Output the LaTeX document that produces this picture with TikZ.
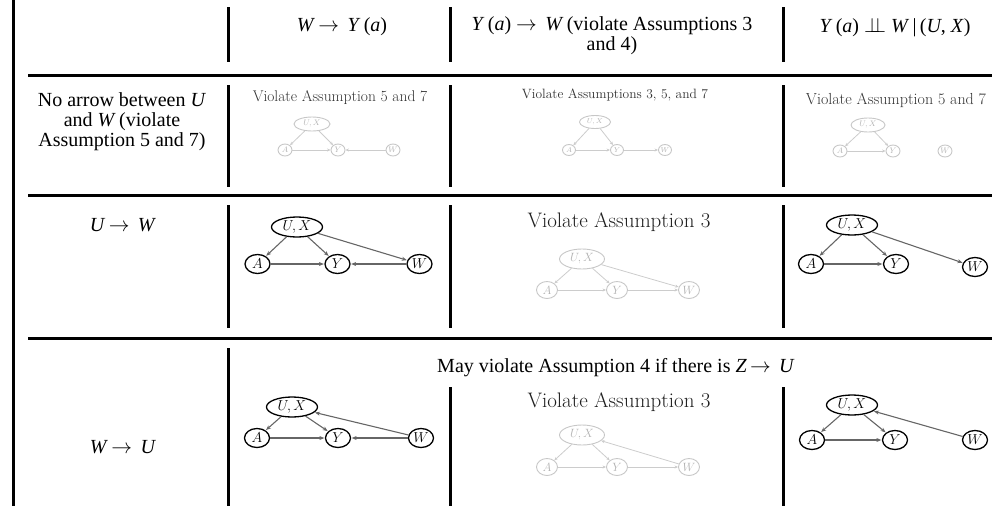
\documentclass[tikz,border=0pt]{standalone}
\usepackage{fontspec}
\setmainfont{Liberation Serif}
\usetikzlibrary{arrows.meta,shapes.geometric}
\newcommand\cmfam{\fontfamily{lmr}\selectfont}
\tikzset{
  rule/.style={line width=3pt, line cap=butt},
  tcell/.style={font=\fontsize{20}{20}\selectfont, align=center, inner sep=0pt},
  gtitle/.style={font=\cmfam\fontsize{#1}{#1}\selectfont, text=black!88, inner sep=0pt},
  gn/.style={draw, ellipse, inner sep=0pt, minimum width=25pt, minimum height=19pt, line width=1.3pt, font=\fontsize{15}{15}\selectfont},
  ge/.style={draw, ellipse, inner sep=0pt, minimum width=51pt, minimum height=20pt, line width=1.3pt, font=\fontsize{15}{15}\selectfont},
  ar/.style={-{Stealth[length=5pt,width=4pt]}, draw=black!60, line width=1.1pt, shorten >=0.5pt},
  fn/.style={draw=black!22, text=black!30, ellipse, inner sep=0pt, line width=0.9pt},
  fa/.style={-{Stealth[length=3.5pt,width=3pt]}, draw=black!20, line width=0.8pt},
}
\begin{document}
\begin{tikzpicture}[x=1pt,y=-1pt]
\useasboundingbox (0,0) rectangle (998,506);
% table rules
\draw[rule] (13,0) -- (13,506);
\draw[rule] (28,75) -- (992,75);
\draw[rule] (28,195) -- (992,195);
\draw[rule] (28,338) -- (992,338);
\foreach \x in {228,450,783} {
  \draw[rule] (\x,7) -- (\x,62);
  \draw[rule] (\x,85) -- (\x,187);
  \draw[rule] (\x,205) -- (\x,328);
}
\draw[rule] (228,348) -- (228,506);
\draw[rule] (450,387) -- (450,506);
\draw[rule] (783,387) -- (783,506);

% header
\node[tcell] (h1) at (342,27) {\textit{W}\,$\rightarrow$\, \textit{Y}\,(\textit{a})};
\node[tcell] (h2) at (612,36) {\textit{Y}\,(\textit{a}) $\rightarrow$\, \textit{W}\,(violate Assumptions 3\\and 4)};
\node[tcell] (h3) at (895,27) {\textit{Y}\,(\textit{a}) $\perp\!\!\!\perp$ \textit{W}\,|\,(\textit{U}, \textit{X})};

% row labels
\node[tcell] (r1) at (122,122) {No arrow between \textit{U}\\and \textit{W}\,(violate\\Assumption 5 and 7)};
\node[tcell] (r2) at (123,225) {\textit{U}\,$\rightarrow$\, \textit{W}};
\node[tcell] (r3) at (123,447) {\textit{W}\,$\rightarrow$\, \textit{U}};
\node[tcell] (span) at (616,368) {May violate Assumption 4 if there is \textit{Z}\,$\rightarrow$\, \textit{U}};

% ---- row 1, col 2 (faint)
\node[gtitle=15.5, text=black!80] (t12) at (340,98) {Violate Assumption 5 and 7};
\node[fn, minimum width=36pt, minimum height=14pt, font=\fontsize{8}{8}\selectfont] (a-ux) at (312,124) {$U,X$};
\node[fn, minimum width=14pt, minimum height=12pt, font=\fontsize{8}{8}\selectfont] (a-a) at (285,150) {$A$};
\node[fn, minimum width=14pt, minimum height=12pt, font=\fontsize{8}{8}\selectfont] (a-y) at (338,150) {$Y$};
\node[fn, minimum width=14pt, minimum height=12pt, font=\fontsize{8}{8}\selectfont] (a-w) at (393,150) {$W$};
\draw[fa] (a-ux) -- (a-a);
\draw[fa] (a-ux) -- (a-y);
\draw[fa] (a-a) -- (a-y);
\draw[fa] (a-w) -- (a-y);

% ---- row 1, col 3 (faint)
\node[gtitle=13.5, text=black!80] (t13) at (615,95) {Violate Assumptions 3, 5, and 7};
\node[fn, minimum width=31pt, minimum height=13pt, font=\fontsize{7}{7}\selectfont] (b-ux) at (595,122) {$U,X$};
\node[fn, minimum width=13pt, minimum height=11pt, font=\fontsize{7}{7}\selectfont] (b-a) at (569,150) {$A$};
\node[fn, minimum width=13pt, minimum height=11pt, font=\fontsize{7}{7}\selectfont] (b-y) at (617,150) {$Y$};
\node[fn, minimum width=13pt, minimum height=11pt, font=\fontsize{7}{7}\selectfont] (b-w) at (665,150) {$W$};
\draw[fa] (b-ux) -- (b-a);
\draw[fa] (b-ux) -- (b-y);
\draw[fa] (b-a) -- (b-y);
\draw[fa] (b-y) -- (b-w);

% ---- row 1, col 4 (faint)
\node[gtitle=16, text=black!80] (t14) at (896,100) {Violate Assumption 5 and 7};
\node[fn, minimum width=34pt, minimum height=14pt, font=\fontsize{8}{8}\selectfont] (c-ux) at (868,125) {$U,X$};
\node[fn, minimum width=14pt, minimum height=12pt, font=\fontsize{8}{8}\selectfont] (c-a) at (840,151) {$A$};
\node[fn, minimum width=14pt, minimum height=12pt, font=\fontsize{8}{8}\selectfont] (c-y) at (893,151) {$Y$};
\node[fn, minimum width=14pt, minimum height=12pt, font=\fontsize{8}{8}\selectfont] (c-w) at (945,151) {$W$};
\draw[fa] (c-ux) -- (c-a);
\draw[fa] (c-ux) -- (c-y);
\draw[fa] (c-a) -- (c-y);

% ---- row 2, col 2
\node[ge] (d-ux) at (297,227) {$U,X$};
\node[gn] (d-a) at (257.5,264) {$A$};
\node[gn] (d-y) at (337.5,264) {$Y$};
\node[gn] (d-w) at (419.5,264) {$W$};
\draw[ar] (d-ux) -- (d-a);
\draw[ar] (d-ux) -- (d-y);
\draw[ar] (d-ux) -- (d-w);
\draw[ar] (d-a) -- (d-y);
\draw[ar] (d-w) -- (d-y);

% ---- row 2, col 3 (faint)
\node[gtitle=21] (t23) at (619,222) {Violate Assumption 3};
\node[fn, minimum width=45pt, minimum height=20pt, font=\fontsize{12}{12}\selectfont] (e-ux) at (582,259) {$U,X$};
\node[fn, minimum width=21pt, minimum height=17pt, font=\fontsize{12}{12}\selectfont] (e-a) at (547,290) {$A$};
\node[fn, minimum width=21pt, minimum height=17pt, font=\fontsize{12}{12}\selectfont] (e-y) at (617,290) {$Y$};
\node[fn, minimum width=21pt, minimum height=17pt, font=\fontsize{12}{12}\selectfont] (e-w) at (689,290) {$W$};
\draw[fa] (e-ux) -- (e-a);
\draw[fa] (e-ux) -- (e-y);
\draw[fa] (e-ux) -- (e-w);
\draw[fa] (e-a) -- (e-y);
\draw[fa] (e-y) -- (e-w);

% ---- row 2, col 4
\node[ge] (f-ux) at (852,225) {$U,X$};
\node[gn] (f-a) at (811,264) {$A$};
\node[gn] (f-y) at (896,264) {$Y$};
\node[gn] (f-w) at (975,267) {$W$};
\draw[ar] (f-ux) -- (f-a);
\draw[ar] (f-ux) -- (f-y);
\draw[ar] (f-ux) -- (f-w);
\draw[ar] (f-a) -- (f-y);

% ---- row 3, col 2
\node[ge] (g-ux) at (292,407) {$U,X$};
\node[gn] (g-a) at (257,438) {$A$};
\node[gn] (g-y) at (338,438) {$Y$};
\node[gn] (g-w) at (421,438) {$W$};
\draw[ar] (g-ux) -- (g-a);
\draw[ar] (g-ux) -- (g-y);
\draw[ar] (g-w) -- (g-ux);
\draw[ar] (g-a) -- (g-y);
\draw[ar] (g-w) -- (g-y);

% ---- row 3, col 3 (faint)
\node[gtitle=21] (t33) at (619,402) {Violate Assumption 3};
\node[fn, minimum width=45pt, minimum height=20pt, font=\fontsize{12}{12}\selectfont] (h-ux) at (582,435) {$U,X$};
\node[fn, minimum width=21pt, minimum height=17pt, font=\fontsize{12}{12}\selectfont] (h-a) at (547,467) {$A$};
\node[fn, minimum width=21pt, minimum height=17pt, font=\fontsize{12}{12}\selectfont] (h-y) at (617,467) {$Y$};
\node[fn, minimum width=21pt, minimum height=17pt, font=\fontsize{12}{12}\selectfont] (h-w) at (689,467) {$W$};
\draw[fa] (h-ux) -- (h-a);
\draw[fa] (h-ux) -- (h-y);
\draw[fa] (h-w) -- (h-ux);
\draw[fa] (h-a) -- (h-y);
\draw[fa] (h-y) -- (h-w);

% ---- row 3, col 4
\node[ge] (k-ux) at (852,405) {$U,X$};
\node[gn] (k-a) at (812,440) {$A$};
\node[gn] (k-y) at (895,440) {$Y$};
\node[gn] (k-w) at (975,440) {$W$};
\draw[ar] (k-ux) -- (k-a);
\draw[ar] (k-ux) -- (k-y);
\draw[ar] (k-w) -- (k-ux);
\draw[ar] (k-a) -- (k-y);
\end{tikzpicture}
\end{document}
